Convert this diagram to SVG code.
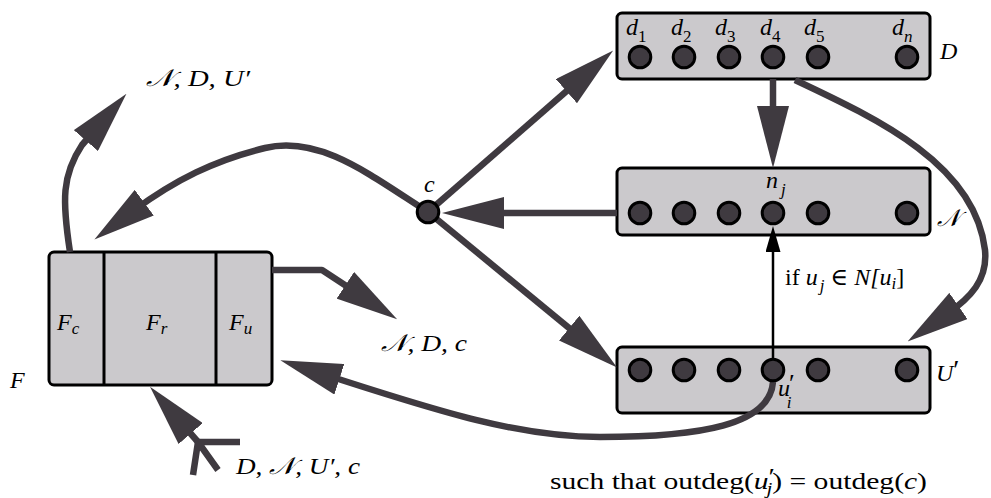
<svg xmlns="http://www.w3.org/2000/svg" width="991" height="498" viewBox="0 0 991 498">
<defs>
<style>
.box{fill:#cbc9cc;stroke:#000;stroke-width:3}
.dot{fill:#3f3a40;stroke:#000;stroke-width:3}
.sep{stroke:#000;stroke-width:3}
.conn{fill:none;stroke:#3f3a40;stroke-width:6.5;stroke-linejoin:round}
.thin{fill:none;stroke:#000;stroke-width:2.5}
text{font-family:"Liberation Serif","DejaVu Serif","DejaVu Sans",serif;font-size:24px;fill:#000;font-style:italic}
.up{font-style:normal}
.sub{font-size:17px}
</style>
<marker id="ah" viewBox="0 0 62 32" markerWidth="62" markerHeight="32" refX="14" refY="16" orient="auto" markerUnits="userSpaceOnUse"><path d="M0,0 L62,16 L0,32 Z" fill="#3f3a40"/></marker>
<marker id="sh" viewBox="0 0 26 15" markerWidth="26" markerHeight="15" refX="6" refY="7.5" orient="auto" markerUnits="userSpaceOnUse"><path d="M0,0 L26,7.5 L0,15 Z" fill="#000"/></marker>
</defs>

<g id="F">
<rect class="box" x="49" y="252" width="223" height="133" rx="5"/>
<line class="sep" x1="104" y1="252" x2="104" y2="385"/>
<line class="sep" x1="216" y1="252" x2="216" y2="385"/>
<text x="57" y="330">F<tspan class="sub" dy="4">c</tspan></text>
<text x="146" y="330">F<tspan class="sub" dy="4">r</tspan></text>
<text x="229" y="330">F<tspan class="sub" dy="4">u</tspan></text>
<text x="10" y="388">F</text>
</g>

<g id="D">
<rect class="box" x="617" y="13" width="313" height="66" rx="5"/>
<text x="626" y="35">d<tspan class="sub up" dy="7">1</tspan></text>
<text x="671" y="35">d<tspan class="sub up" dy="7">2</tspan></text>
<text x="715" y="35">d<tspan class="sub up" dy="7">3</tspan></text>
<text x="760" y="35">d<tspan class="sub up" dy="7">4</tspan></text>
<text x="804" y="35">d<tspan class="sub up" dy="7">5</tspan></text>
<text x="892" y="35">d<tspan class="sub" dy="7">n</tspan></text>
<text x="940" y="59">D</text>
</g>

<g id="N">
<rect class="box" x="617" y="168" width="313" height="67" rx="5"/>
<text x="766" y="188">n<tspan class="sub" dx="3" dy="7">j</tspan></text>
<text x="937" y="226">𝒩</text>
</g>

<g id="U">
<rect class="box" x="617" y="347" width="313" height="66" rx="5"/>
<text x="936" y="381">U<tspan class="up" font-size="28" dy="-2">′</tspan></text>
</g>

<g id="connectors">
<path class="conn" d="M428,212 L577,82" marker-end="url(#ah)"/>
<path class="conn" d="M617,213 L490,213" marker-end="url(#ah)"/>
<path class="conn" d="M428,212 L580,337" marker-end="url(#ah)"/>
<path class="conn" d="M428,212 C370,175 320,135 265,148 C215,160 175,180 133,211" marker-end="url(#ah)"/>
<path class="conn" d="M70,252 C62,200 62,175 82,145 L95,130" marker-end="url(#ah)"/>
<path class="conn" d="M272,270 L322,270 L357,293" marker-end="url(#ah)"/>
<path class="conn" d="M773,382 C770,425 700,437 600,437 C520,437 440,412 326,375" marker-end="url(#ah)"/>
<path class="conn" d="M198,442 L181.5,423" marker-end="url(#ah)"/>
<path class="conn" d="M193,475 L198,442 M240,442 L198,442 M218,470 L198,442"/>
<path class="conn" d="M773,79 L773,120" marker-end="url(#ah)"/>
<path class="conn" d="M795,80 C880,120 975,165 985,250 C988,280 970,298 947,314" marker-end="url(#ah)"/>
<path class="thin" d="M773,358 L773,246" marker-end="url(#sh)"/>
</g>

<g id="D-dots">
<circle class="dot" cx="640" cy="57" r="10.8"/>
<circle class="dot" cx="684" cy="57" r="10.8"/>
<circle class="dot" cx="729" cy="57" r="10.8"/>
<circle class="dot" cx="773" cy="57" r="10.8"/>
<circle class="dot" cx="818" cy="57" r="10.8"/>
<circle class="dot" cx="907" cy="57" r="10.8"/>
</g>
<g id="N-dots">
<circle class="dot" cx="640" cy="213" r="10.8"/>
<circle class="dot" cx="684" cy="213" r="10.8"/>
<circle class="dot" cx="729" cy="213" r="10.8"/>
<circle class="dot" cx="773" cy="213" r="10.8"/>
<circle class="dot" cx="818" cy="213" r="10.8"/>
<circle class="dot" cx="907" cy="213" r="10.8"/>
</g>
<g id="U-dots">
<circle class="dot" cx="640" cy="370" r="10.8"/>
<circle class="dot" cx="684" cy="370" r="10.8"/>
<circle class="dot" cx="729" cy="370" r="10.8"/>
<circle class="dot" cx="773" cy="370" r="10.8"/>
<circle class="dot" cx="818" cy="370" r="10.8"/>
<circle class="dot" cx="907" cy="370" r="10.8"/>
<text x="778" y="396">u<tspan class="up" font-size="26" dx="-1" dy="-4">′</tspan><tspan class="sub" dx="-8" dy="16">i</tspan></text>
</g>

<g id="c">
<circle class="dot" cx="428" cy="212" r="10.8"/>
<text x="424" y="192">c</text>
</g>

<g id="labels">
<text x="146" y="86" textLength="104" lengthAdjust="spacingAndGlyphs">𝒩, D, U′</text>
<text x="381" y="351" textLength="86" lengthAdjust="spacingAndGlyphs">𝒩, D, c</text>
<text x="236" y="474" textLength="124" lengthAdjust="spacingAndGlyphs">D, 𝒩, U′, c</text>
<text x="785" y="285"><tspan class="up">if </tspan>u<tspan class="sub" dx="2" dy="6">j</tspan><tspan class="up" dy="-6"> ∈ </tspan>N[u<tspan class="sub" dy="4">i</tspan><tspan class="up" dy="-4">]</tspan></text>
<text class="up" x="550" y="489" font-size="25" textLength="377" lengthAdjust="spacingAndGlyphs">such that outdeg(<tspan font-style="italic">u</tspan><tspan font-size="24" dy="-5">′</tspan><tspan class="sub" font-style="italic" dx="-7" dy="10">j</tspan><tspan dy="-5">) =  outdeg(</tspan><tspan font-style="italic">c</tspan>)</text>
</g>
</svg>
